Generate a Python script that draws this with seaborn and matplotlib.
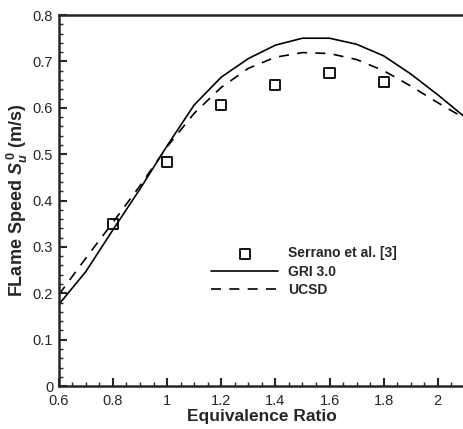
import matplotlib
matplotlib.use('Agg')
import matplotlib.pyplot as plt
import seaborn as sns
import pandas as pd
from matplotlib.ticker import MultipleLocator

# dados
phi = [0.6, 0.7, 0.8, 0.9, 1.0, 1.1, 1.2, 1.3, 1.4, 1.5, 1.6, 1.7, 1.8, 1.9, 2.0, 2.1]
gri = [0.176, 0.247, 0.337, 0.425, 0.518, 0.606, 0.666, 0.706, 0.735, 0.750, 0.750, 0.737, 0.712, 0.673, 0.628, 0.580]
ucsd = [0.197, 0.276, 0.353, 0.432, 0.516, 0.588, 0.644, 0.685, 0.709, 0.719, 0.717, 0.704, 0.680, 0.647, 0.611, 0.577]
phi_exp = [0.8, 1.0, 1.2, 1.4, 1.6, 1.8]
serrano = [0.350, 0.484, 0.605, 0.650, 0.676, 0.656]

sns.set_style('ticks')
plt.rcParams['font.family'] = ['Liberation Sans', 'DejaVu Sans']
plt.rcParams['mathtext.fontset'] = 'custom'
plt.rcParams['mathtext.it'] = 'Liberation Sans:italic:bold'
plt.rcParams['mathtext.rm'] = 'Liberation Sans:bold'

df = pd.DataFrame({'phi': phi, 'GRI 3.0': gri, 'UCSD': ucsd})
df_exp = pd.DataFrame({'phi': phi_exp, 'Serrano et al. [3]': serrano})

fig = plt.figure(figsize=(4.63, 4.29), dpi=100)
ax = fig.add_axes([0.127, 0.1, 0.877, 0.865])

sns.scatterplot(data=df_exp, x='phi', y='Serrano et al. [3]', marker='s', s=52,
                facecolor='none', edgecolor='black', linewidth=1.3,
                label='Serrano et al. [3]', ax=ax, zorder=3)
sns.lineplot(data=df, x='phi', y='GRI 3.0', color='black', linewidth=1.2,
             label='GRI 3.0', ax=ax)
sns.lineplot(data=df, x='phi', y='UCSD', color='black', linewidth=1.2,
             linestyle=(0, (6, 5)), label='UCSD', ax=ax)

ax.set_xlim(0.6, 2.1)
ax.set_ylim(0, 0.8)
ax.xaxis.set_major_locator(MultipleLocator(0.2))
ax.xaxis.set_minor_locator(MultipleLocator(0.05))
ax.yaxis.set_major_locator(MultipleLocator(0.1))
ax.yaxis.set_minor_locator(MultipleLocator(0.02))
ax.set_xticks([0.6, 0.8, 1.0, 1.2, 1.4, 1.6, 1.8, 2.0])
ax.set_xticklabels(['0.6', '0.8', '1', '1.2', '1.4', '1.6', '1.8', '2'])
ax.set_yticks([0, 0.1, 0.2, 0.3, 0.4, 0.5, 0.6, 0.7, 0.8])
ax.set_yticklabels(['0', '0.1', '0.2', '0.3', '0.4', '0.5', '0.6', '0.7', '0.8'])
ax.tick_params(which='major', direction='in', length=6, width=1.5, labelsize=10.5, pad=4, top=False, right=False)
ax.tick_params(axis='x', which='major', pad=5.5)
ax.tick_params(which='minor', direction='in', length=3, width=1, top=False, right=False)

for s in ax.spines.values():
    s.set_linewidth(1.8)
    s.set_visible(True)

ax.set_xlabel('Equivalence Ratio', fontsize=12.5, fontweight='bold', labelpad=1)
ax.set_ylabel(r'FLame Speed $S_u^{\,0}$ (m/s)', fontsize=13, fontweight='bold', labelpad=2)

ax.legend(loc='upper left', bbox_to_anchor=(0.345, 0.41), frameon=False,
          handlelength=4.8, numpoints=1, labelspacing=0.3, handletextpad=0.7,
          prop={'weight': 'bold', 'size': 10})

fig.savefig('out.png', dpi=100)
